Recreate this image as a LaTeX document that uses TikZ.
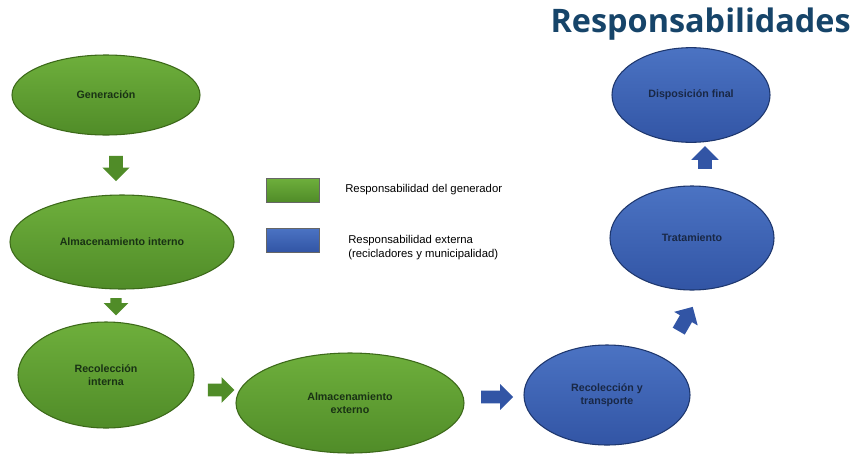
\documentclass[tikz,border=0pt]{standalone}
\usepackage{fontspec}
\setmainfont{Liberation Sans}
\newfontfamily\titlefont{Open Sans}
\usetikzlibrary{shapes.geometric,shapes.arrows}
\definecolor{gtop}{RGB}{110,175,60}
\definecolor{gbot}{RGB}{80,140,40}
\definecolor{gedge}{RGB}{60,105,25}
\definecolor{btop}{RGB}{75,115,195}
\definecolor{bbot}{RGB}{50,85,165}
\definecolor{bedge}{RGB}{30,55,110}
\definecolor{gtext}{RGB}{25,50,20}
\definecolor{btext}{RGB}{25,40,70}
\definecolor{titlecol}{RGB}{22,68,105}
\tikzset{
  gell/.style={ellipse, top color=gtop, bottom color=gbot, draw=gedge, line width=0.8pt,
    font=\bfseries\fontsize{8}{9.5}\selectfont, text=gtext, align=center, inner sep=0pt},
  bell/.style={ellipse, top color=btop, bottom color=bbot, draw=bedge, line width=0.8pt,
    font=\bfseries\fontsize{8}{9.5}\selectfont, text=btext, align=center, inner sep=0pt},
  blockarrow/.style={single arrow, draw=none, inner xsep=0pt, inner ysep=5pt,
    single arrow head extend=5pt, single arrow head indent=0pt},
  garrow/.style={blockarrow, fill=gbot},
  barrow/.style={blockarrow, fill=bbot},
  legbox/.style={draw=black!60, line width=0.5pt, minimum width=39.75pt, minimum height=18pt, inner sep=0pt},
  legtext/.style={font=\fontsize{8.5}{10.5}\selectfont, anchor=west, align=left, inner sep=0pt}
}
\begin{document}
\begin{tikzpicture}[x=0.75pt,y=-0.75pt]
\useasboundingbox (0,0) rectangle (859,457);
\fill[white] (0,0) rectangle (859,457);
% title
\node[anchor=east, inner sep=0pt, text=titlecol, font=\titlefont\bfseries\fontsize{24.3}{27}\selectfont] (title) at (851,24) {Responsabilidades};
% green ellipses
\node[gell, minimum width=141pt, minimum height=60pt] (gen) at (106,95) {Generación};
\node[gell, minimum width=168pt, minimum height=70.5pt] (ai) at (122,242) {Almacenamiento interno};
\node[gell, minimum width=132pt, minimum height=79.5pt] (ri) at (106,375) {Recolección\\interna};
\node[gell, minimum width=171pt, minimum height=75pt] (ae) at (350,403) {Almacenamiento\\externo};
% blue ellipses
\node[bell, minimum width=124.5pt, minimum height=75pt] (rt) at (607,395) {Recolección y\\transporte};
\node[bell, minimum width=123pt, minimum height=78pt] (tr) at (692,238) {Tratamiento};
\node[bell, minimum width=118.5pt, minimum height=71pt] (df) at (691,95) {Disposición final};
% block arrows
\node[garrow, minimum height=19pt, rotate=-90] (a1) at (116,165) {};
\node[garrow, minimum height=13pt, inner ysep=4pt, rotate=-90] (a2) at (116,304) {};
\node[garrow, minimum height=20pt, inner ysep=4.5pt] (a3) at (218,390) {};
\node[barrow, minimum height=24pt, inner ysep=4.5pt] (a4) at (494,397) {};
\node[barrow, minimum height=21pt, rotate=60] (a5) at (684,322) {};
\node[barrow, minimum height=17pt, rotate=90] (a6) at (705,161) {};
% legend
\node[legbox, top color=gtop, bottom color=gbot] (lg) at (293,190) {};
\node[legbox, top color=btop, bottom color=bbot] (lb) at (293,240) {};
\node[legtext] (lgt) at (345,190) {Responsabilidad del generador};
\node[legtext] (lbt) at (348,248) {Responsabilidad externa\\(recicladores y municipalidad)};
\end{tikzpicture}
\end{document}
